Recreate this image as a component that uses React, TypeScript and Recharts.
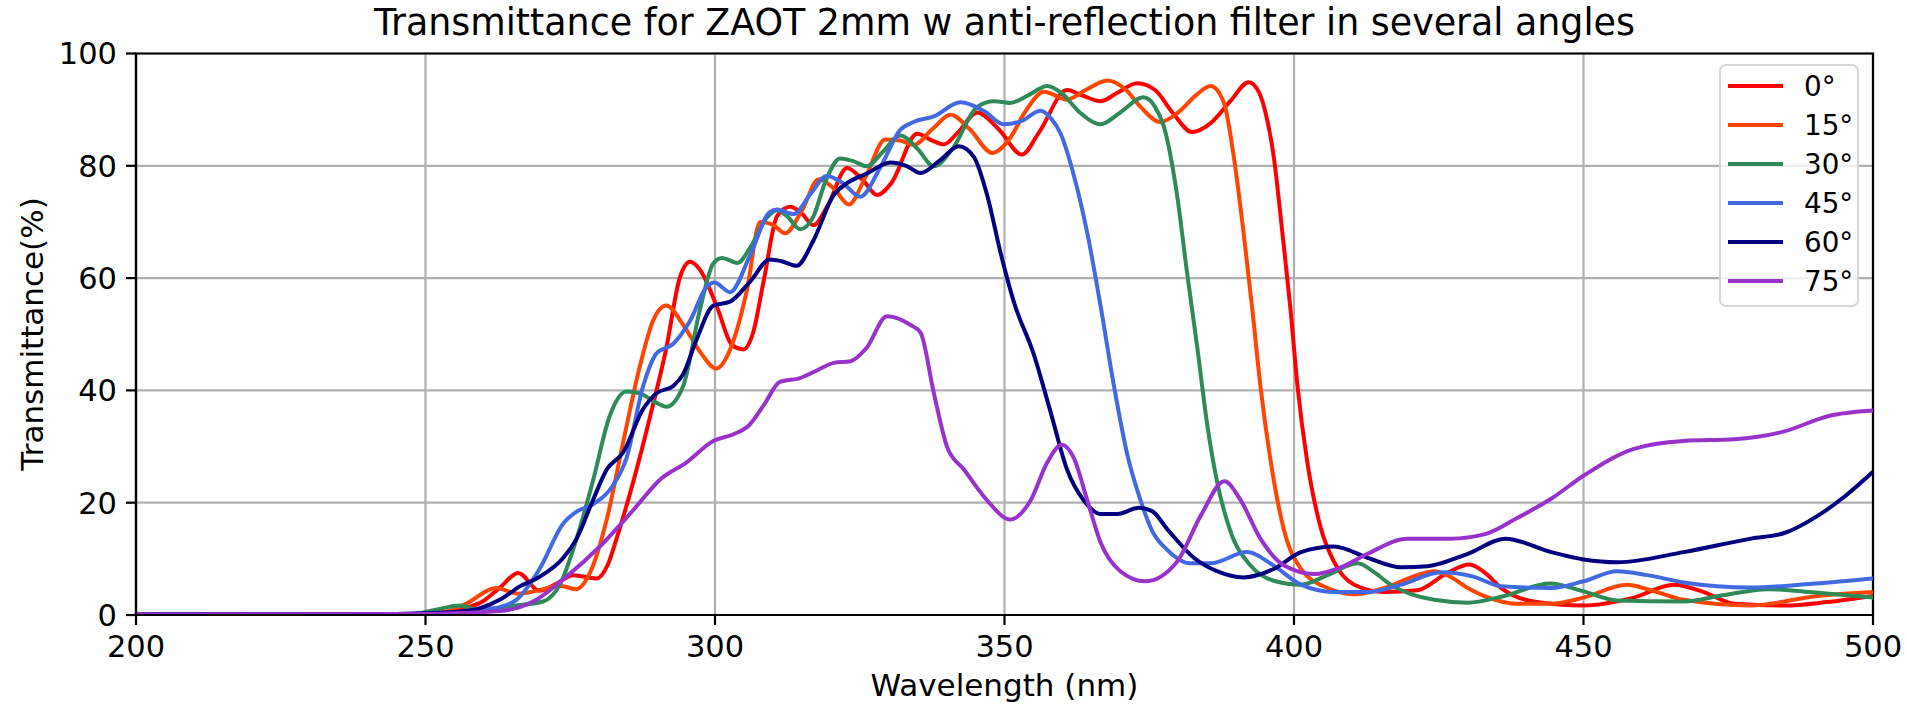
import { LineChart, Line, XAxis, YAxis, CartesianGrid, ReferenceArea, Legend } from 'recharts';

const FONT = '"DejaVu Sans", sans-serif';

const X_TICKS = [200, 250, 300, 350, 400, 450, 500];
const Y_TICKS = [0, 20, 40, 60, 80, 100];

// [wavelength nm, transmittance %]
const T_0: [number, number][] = [
  [200, 0.1], [245, 0.1], [252, 0.3], [256, 1], [260, 2.5], [263, 5], [266, 7.5], [269.7, 4.3],
  [272.5, 5.5], [275.5, 7.1], [279.5, 6.5], [281.5, 9], [283, 13.6], [285.9, 23.8], [288.8, 35.4],
  [291.6, 47.6], [293.9, 60], [295.7, 62.9], [297.4, 61.5], [300.3, 55], [303, 48], [304.9, 47.3],
  [306.5, 50], [308.5, 60], [310.7, 71], [313, 72.7], [315, 71.5], [317, 69.4], [319.5, 73],
  [322.8, 79.6], [325.5, 77.5], [328, 74.8], [330.5, 77], [334.9, 85.7], [337.5, 84.5], [339.5, 83.8],
  [342, 86], [345.3, 89.5], [349, 86.5], [353, 82], [356, 86], [360.8, 93.5], [363.5, 92.5],
  [366.6, 91.5], [369.5, 93], [372.9, 94.7], [376, 93.5], [379, 89.5], [382.4, 86], [385.5, 87.5],
  [389, 91.5], [392.2, 94.9], [394, 93], [395, 89.8], [396.5, 81.6], [398, 68], [399.4, 54.4],
  [400.6, 40.8], [402.3, 27.2], [404.6, 15.6], [406.9, 9.5], [410.4, 5.4], [415.6, 4.1], [421.3, 4.4],
  [426.5, 7.5], [430.3, 9.0], [433, 7.5], [435.8, 4.8], [441.4, 2.4], [450, 1.7], [458.7, 3.1],
  [465.6, 5.4], [471, 4], [476, 2], [484.7, 1.7], [492, 2.3], [500, 3.4],
];

const T_15: [number, number][] = [
  [200, 0.1], [248, 0.1], [253, 0.5], [257, 2], [262.2, 4.8], [266, 3.8], [270, 4.5], [273.2, 5.2],
  [276, 4.6], [278.4, 7.5], [281.3, 17], [284.1, 30.6], [287, 44.2], [289.3, 52.4], [291.6, 55.1],
  [294.5, 51.7], [297.4, 46.9], [300.2, 43.9], [302.5, 47], [305.5, 57.8], [307.8, 70], [310, 69.5],
  [312.1, 68], [315, 72], [317.9, 77.6], [320.5, 76], [323.1, 73.1], [326, 78], [329.4, 84.7],
  [332, 84.5], [334.3, 83.7], [337.5, 86.5], [340.7, 89.1], [344, 86.5], [347.9, 82.3], [351, 85],
  [353.5, 89.5], [356.8, 93.2], [360.8, 91.8], [364, 93.5], [367.8, 95.2], [371, 93.5], [373.5, 90.5],
  [376.9, 87.8], [380, 89.5], [383, 92.5], [385.6, 94.2], [387.9, 91.2], [389.6, 81.6], [391.3, 68],
  [392.8, 54.4], [394.2, 40.8], [396, 27.2], [398.3, 15], [401.2, 8.2], [405.8, 4.8], [410.4, 3.7],
  [415.6, 4.8], [421.3, 7.1], [424.2, 7.8], [427, 6.8], [430, 4.8], [435.8, 2.4], [438.4, 2],
  [444.4, 2], [450, 3.1], [457.5, 5.4], [462, 4.3], [467.3, 2.7], [478.9, 1.7], [490.5, 3.4], [500, 4.1],
];

const T_30: [number, number][] = [
  [200, 0.1], [248, 0.2], [252, 1], [255.9, 1.7], [258.8, 1], [262, 1.2], [265.7, 1.7], [270.3, 2.4],
  [273.2, 5.4], [276.1, 13.6], [278.9, 23.8], [281.8, 35.4], [284.7, 39.8], [287, 39.5], [289.5, 38],
  [291.6, 37.1], [294.5, 40.8], [297.4, 54.4], [299.7, 62.6], [301.2, 63.6], [303.9, 62.7], [306, 65.3],
  [308.9, 70.7], [310.7, 72.1], [312.5, 71], [314.7, 68.7], [317, 71], [319, 77], [321.6, 81.3],
  [324, 80.8], [326.2, 79.9], [329, 82.5], [332, 85.4], [335, 83], [337.8, 79.9], [341, 83],
  [345.3, 90.5], [348.2, 91.5], [351, 91.2], [354, 92.5], [357.4, 94.2], [360, 92.8], [363, 89.5],
  [366.6, 87.4], [370, 89.5], [374, 92.2], [376, 90.5], [377.5, 87.1], [379.8, 74.8], [381.5, 61.2],
  [383.3, 47.6], [385, 34], [386.7, 23.8], [389, 15], [392.5, 8.8], [396.5, 6.1], [401.2, 5.4],
  [405.8, 7.1], [411, 9.2], [414, 7.5], [416.7, 5.4], [424.2, 2.7], [430, 2.2], [436, 3.3],
  [444.2, 5.6], [450, 4.2], [455.8, 2.6], [467.3, 2.4], [474, 3.5], [481.8, 4.6], [490, 4.0], [500, 3.1],
];

const T_45: [number, number][] = [
  [200, 0.1], [245, 0.2], [255, 0.5], [260, 1], [262.8, 1.4], [265.7, 2.7], [269.7, 8.2], [273.8, 16.3],
  [276.1, 18.4], [278.9, 19.7], [282.4, 23.1], [284.7, 27.9], [287.6, 40.8], [289.9, 46.6], [292.8, 48.3],
  [295.7, 52.4], [298.6, 58.5], [299.9, 59.2], [302.6, 57.5], [306, 63.9], [309.5, 71.8], [310.7, 72.2],
  [313.6, 71.4], [316.5, 75], [319.3, 78.2], [322, 77], [325.1, 74.5], [328.5, 79.6], [332, 86.4],
  [334.3, 87.8], [337.8, 88.8], [342.4, 91.3], [346.4, 89.8], [349.9, 87.4], [353, 88], [356.2, 89.8],
  [358, 88.5], [359.7, 85.7], [362, 78.2], [364.3, 68], [366.6, 55], [368.9, 40.8], [371.2, 28.6],
  [373.5, 20.4], [375.5, 15], [378.1, 11.6], [382.1, 9.2], [385.6, 9.2], [391.9, 11.2], [396.5, 8.8],
  [401.2, 5.4], [406.9, 4.1], [412.7, 4.1], [418.5, 5.4], [425.4, 7.6], [431.1, 6.8], [435.8, 5.1],
  [444.4, 4.8], [450, 6], [455.8, 7.8], [461, 7.1], [467.3, 5.8], [478.9, 4.9], [490, 5.6], [500, 6.5],
];

const T_60: [number, number][] = [
  [200, 0.1], [245, 0.2], [257, 0.7], [262.8, 2.7], [266.3, 5.1], [269.7, 6.8], [273.8, 10.2],
  [276.1, 13.6], [278.9, 20.4], [281.3, 25.9], [284.1, 28.9], [287.6, 36.7], [289.9, 39.5], [292.8, 40.8],
  [294.5, 42.9], [296.8, 49], [299.7, 55.1], [302.6, 55.8], [306, 59.3], [309.5, 63.3], [311.5, 63],
  [314.1, 62.2], [317, 66.7], [320.5, 74.8], [322.8, 76.9], [326.2, 78.6], [330.3, 80.6], [333, 80],
  [335.5, 78.7], [338.9, 81], [342.1, 83.5], [344.7, 81.6], [347, 74.8], [349.3, 64.6], [351.6, 55.8],
  [355.1, 46.3], [358, 36], [360.8, 25.9], [363.7, 20.4], [366.6, 18], [369.5, 18], [373.2, 19.1],
  [375.5, 18.5], [378.1, 15.3], [382.7, 10.2], [386.7, 7.8], [391.3, 6.7], [396.5, 8.2], [401.2, 11.2],
  [406.9, 12.2], [412.7, 10.2], [418.5, 8.5], [423.1, 8.7], [430, 10.9], [436.5, 13.6], [444.4, 11.2],
  [450, 9.9], [455.8, 9.4], [467.3, 11.2], [478.9, 13.6], [484.7, 14.6], [490.5, 17.7], [495.1, 21.1],
  [500, 25.5],
];

const T_75: [number, number][] = [
  [200, 0.1], [250, 0.2], [262.8, 0.7], [268.6, 2.4], [274.3, 6.8], [280.1, 12.2], [285.9, 18.7],
  [290.5, 24.1], [295.1, 27.2], [299.7, 31], [303.2, 32.2], [305.8, 33.7], [308.5, 37.5], [311.2, 41.5],
  [314.7, 42.2], [317.5, 43.5], [320.5, 44.9], [323.4, 45.2], [326.2, 47.6], [329.7, 53.2], [333.7, 51.7],
  [335.5, 50.3], [337.8, 39.5], [340.1, 29.9], [343, 25.9], [347, 20.4], [351, 17], [354.5, 20.4],
  [357.4, 27.2], [359.9, 30.3], [362, 27.9], [364.3, 20.4], [366.6, 12.9], [370, 7.8], [374.3, 6],
  [379.8, 9.5], [383.9, 17.7], [388, 23.8], [390.8, 20.4], [394.2, 13.6], [398.3, 8.8], [403.5, 7.3],
  [408.1, 8.5], [412.7, 10.9], [419.6, 13.6], [427, 13.6], [433, 14.4], [438.6, 17.3], [444.4, 20.7],
  [450, 24.8], [458.7, 29.6], [467.3, 31], [476, 31.3], [484.7, 32.7], [492.2, 35.4], [500, 36.4],
];

const SERIES = [
  { name: '0°', color: '#ff0000', points: T_0 },
  { name: '15°', color: '#ff4500', points: T_15 },
  { name: '30°', color: '#2e8b57', points: T_30 },
  { name: '45°', color: '#4169e1', points: T_45 },
  { name: '60°', color: '#000080', points: T_60 },
  { name: '75°', color: '#9932cc', points: T_75 },
];

function LegendBox() {
  return (
    <div style={{
      position: 'relative', width: 140, height: 243, boxSizing: 'border-box',
      border: '2px solid #d6d6d6', borderRadius: 7, background: 'rgba(255,255,255,0.8)',
      fontFamily: FONT, fontSize: 27.8, color: '#000',
    }}>
      {SERIES.map((s, i) => (
        <div key={s.name} style={{
          position: 'absolute', left: 0, top: 0.5 + i * 39, height: 39,
          display: 'flex', alignItems: 'center',
        }}>
          <div style={{ marginLeft: 7, width: 55, height: 4, background: s.color }} />
          <span style={{ marginLeft: 21, lineHeight: '39px' }}>{s.name}</span>
        </div>
      ))}
    </div>
  );
}

export default function App() {
  return (
    <div style={{ position: 'absolute', left: 0, top: 0, width: 1907, height: 704, background: '#fff' }}>
      <LineChart width={1907} height={704} margin={{ top: 53.5, right: 34, bottom: 29, left: 56 }}>
        <CartesianGrid stroke="#b0b0b0" strokeWidth={2.2} />
        <XAxis
          dataKey="x" type="number" domain={[200, 500]} ticks={X_TICKS} allowDataOverflow
          height={60} tickSize={10} tickMargin={10}
          tick={{ fill: '#000', fontSize: 30.5, fontFamily: FONT }}
          tickLine={{ stroke: '#000', strokeWidth: 2.2 }}
          axisLine={{ stroke: '#000', strokeWidth: 2.2 }}
        />
        <YAxis
          type="number" domain={[0, 100]} ticks={Y_TICKS} allowDataOverflow
          width={80} tickSize={10} tickMargin={9}
          tick={{ fill: '#000', fontSize: 30.5, fontFamily: FONT }}
          tickLine={{ stroke: '#000', strokeWidth: 2.2 }}
          axisLine={{ stroke: '#000', strokeWidth: 2.2 }}
        />
        {SERIES.map(s => (
          <Line
            key={s.name}
            name={s.name}
            data={s.points.map(([x, y]) => ({ x, y }))}
            dataKey="y"
            type="monotone"
            stroke={s.color}
            strokeWidth={4}
            dot={false}
            activeDot={false}
            isAnimationActive={false}
          />
        ))}
        <ReferenceArea x1={200} x2={500} y1={0} y2={100} fill="none" stroke="#000" strokeWidth={2.2} ifOverflow="visible" />
        <Legend
          layout="vertical" align="center" verticalAlign="middle"
          content={() => <LegendBox />}
          wrapperStyle={{ left: 1719, top: 64, width: 140, height: 243 }}
        />
      </LineChart>
      <svg width={1907} height={704} style={{ position: 'absolute', left: 0, top: 0, pointerEvents: 'none' }}>
        <text x={1004.5} y={35} textAnchor="middle" fontFamily={FONT} fontSize={36.4} fill="#000">
          Transmittance for ZAOT 2mm w anti-reflection filter in several angles
        </text>
        <text x={1004.5} y={696} textAnchor="middle" fontFamily={FONT} fontSize={31} fill="#000">
          Wavelength (nm)
        </text>
        <text transform="translate(43,334) rotate(-90)" textAnchor="middle" fontFamily={FONT} fontSize={31} fill="#000">
          Transmittance(%)
        </text>
      </svg>
    </div>
  );
}
